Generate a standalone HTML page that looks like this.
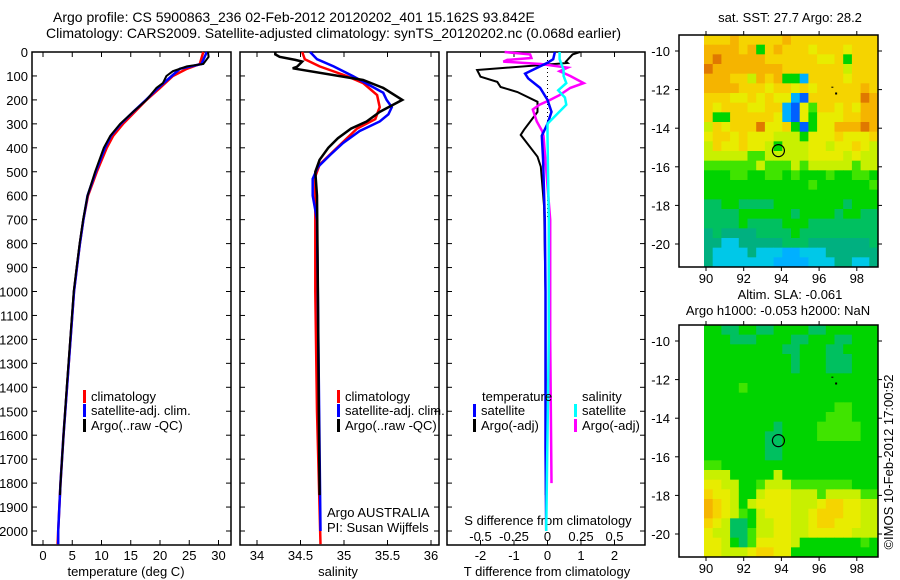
<!DOCTYPE html>
<html><head><meta charset="utf-8">
<style>
html,body{margin:0;padding:0;background:#fff;}
svg{display:block;font-family:"Liberation Sans",Arial,sans-serif;}
text{font-size:13px;fill:#000;}
</style></head>
<body>
<svg id="fig" width="900" height="580" viewBox="0 0 900 580" xmlns="http://www.w3.org/2000/svg">
<text x="53" y="22" style="font-size:14px">Argo profile: CS 5900863_236 02-Feb-2012 20120202_401 15.162S 93.842E</text>
<text x="46" y="38" style="font-size:14px">Climatology: CARS2009. Satellite-adjusted climatology: synTS_20120202.nc (0.068d earlier)</text>
<text x="790" y="22" text-anchor="middle">sat. SST: 27.7 Argo: 28.2</text>
<text x="790" y="299" text-anchor="middle">Altim. SLA: -0.061</text>
<text x="778" y="315" text-anchor="middle">Argo h1000: -0.053 h2000: NaN</text>
<text transform="translate(893,462) rotate(-90)" text-anchor="middle">©IMOS 10-Feb-2012 17:00:52</text>
<text x="126" y="576" text-anchor="middle">temperature (deg C)</text>
<text x="338" y="576" text-anchor="middle">salinity</text>
<text x="547" y="576" text-anchor="middle">T difference from climatology</text>
<text x="548" y="525" text-anchor="middle">S difference from climatology</text>
<text x="327" y="517">Argo AUSTRALIA</text>
<text x="327" y="532">PI: Susan Wijffels</text>
<g id="layer"></g>
</svg>
<script>
// ---- data ----
const depthTicks = [0,100,200,300,400,500,600,700,800,900,1000,1100,1200,1300,1400,1500,1600,1700,1800,1900,2000];
const tempTicks = [0,5,10,15,20,25,30];
const salTicks = [34,34.5,35,35.5,36];
const salTickLabels = ["34","34.5","35","35.5","36"];
const tdiffTicks = [-2,-1,0,1,2];
const sdiffTickLabels = ["-0.5","-0.25","0","0.25","0.5"];

const tClimDepth = [0,50,70,100,150,200,250,300,350,400,500,600,700,800,900,1000,1200,1400,1600,1800,2000,2055];
const tClim = [27.4,26.8,24.6,22.2,20,17.7,15.7,13.7,12,10.9,9.2,7.7,6.9,6.3,5.8,5.3,4.7,4.1,3.5,3.0,2.6,2.5];
const tSat = [28,27.1,23.4,22,19.7,17.6,15.4,13.3,11.6,10.6,9.0,7.6,6.9,6.3,5.8,5.3,4.7,4.1,3.5,3.0,2.6,2.6];
const tArgoDepth = [0,20,50,60,80,100,130,150,200,250,300,350,400,500,600,700,800,900,1000,1200,1400,1600,1800,1850];
const tArgo = [28.2,28.3,27.4,24.6,22.2,21.1,20.5,19.4,17.7,15.4,13.2,11.5,10.4,8.9,7.6,6.85,6.25,5.75,5.25,4.65,4.05,3.5,3.0,2.9];

const sClimDepth = [0,30,60,100,130,180,230,280,320,400,470,520,600,1000,1500,2055];
const sClim = [34.52,34.55,34.72,35.03,35.22,35.38,35.41,35.36,35.15,34.92,34.72,34.67,34.67,34.67,34.69,34.73];
const sSatDepth = [0,30,60,100,140,170,200,230,260,290,330,380,430,480,530,600,700,2000];
const sSat = [34.61,34.69,34.88,35.10,35.30,35.45,35.49,35.55,35.51,35.41,35.18,34.99,34.84,34.70,34.64,34.64,34.69,34.73];
const sArgoDepth = [0,10,20,33,40,62,68,117,150,200,250,290,320,360,400,450,500,600,1000,1500,1850];
const sArgo = [34.21,34.21,34.26,34.44,34.52,34.46,34.41,35.22,35.45,35.67,35.41,35.26,35.08,34.93,34.82,34.72,34.67,34.69,34.70,34.71,34.72];

const dTArgoDepth = [0,10,40,46,75,103,125,146,167,208,250,325,346,437,479,646,1000,1500,1850];
const dTArgo = [0.97,0.75,0.55,0.6,-2.1,-2.0,-1.5,-1.4,-0.9,-0.3,-0.3,-0.7,-0.8,-0.3,-0.2,-0.1,-0.06,-0.05,-0.05];
const dTSatDepth = [0,30,45,90,110,150,200,250,300,350,450,700,1000,1650,2000];
const dTSat = [0.22,0.17,0,-0.67,-0.58,-0.22,0,0.12,0,-0.17,-0.13,-0.08,-0.06,-0.06,-0.04];
const dSSatDepth = [0,30,75,100,130,160,190,220,260,300,350,700,1200,2000];
const dSSat = [0.09,0.09,0.12,0.12,0.14,0.08,0.13,0.14,0.07,0,0,0.01,0.01,-0.01];
const dSArgoDepth = [0,10,25,33,40,50,65,80,100,130,150,180,200,220,240,290,330,350,700,1200,1800];
const dSArgo = [-0.32,-0.13,-0.12,-0.30,-0.33,-0.05,0.15,0.09,0.17,0.27,0.17,0.09,0.02,-0.06,-0.11,-0.08,-0.04,-0.03,0.02,0.02,0.03];

const latTicks = [-10,-12,-14,-16,-18,-20];
const lonTicks = [90,92,94,96,98];
const sstGrid = [
"aaabaaaaabaaaaaaaaaa","bbbbab6abaaa9aaa9aaa","bcbbbbbaaaaaa99a6aaa","cbbbbbbbbaaaaaaa8aaa",
"bbbaa8bab662aaaa9aaa","bbbbaaa9aa9a9aaaaaba","aaa99a9a9921aaaaaacb","a9aaa99aa2197aa9a9bb",
"a66aaaaa92196999aabb","8a9aaac99a61699bbbcb","9aa9a9998886999a999a","8a99a998688899899a98",
"88888778888899998988","77777787778788888788","66677667767666766776","66666666666676666667",
"66666666666666666666","55665555666666665666","55556666665666656655","55556555566655555555",
"45444455556555555555","44334444455544444445","43333433322333444444","43333333222233344334"];
const slaGrid = [
"66556655666655666666","66655566665566655666","66666666655666556666","66666666665666555666",
"66666666665666555666","66666666666666666666","66667666666666666666","66666666666666666666",
"66666666666666677666","66666666666666777666","66666666566667777766","66666665566667777766",
"66666665566666666666","66666665566666666666","77666666666666666666","88866666866666666666",
"99886678887777777666","a9986689998887888877","ba986899998889aa9988","ba98768999889aaa9988",
"a985568899889aa99988","98855788998899999888","99865799998666666676","998889aa996666666666"];
const palette = {"0":"#0000a0","1":"#0060ff","2":"#00b0ff","3":"#00c8e8","4":"#00b080","5":"#00c060","6":"#00d400","7":"#40e400","8":"#c8f000","9":"#e8ec00","a":"#f5d400","b":"#f5b400","c":"#e07800"};
const argoLon = [93.842];
const argoLat = [-15.162];

// ---- helpers ----
const NS = "http://www.w3.org/2000/svg";
const layer = document.getElementById("layer");
function mk(tag, attrs, parent){
  const e = document.createElementNS(NS, tag);
  for (const k in attrs) e.setAttribute(k, attrs[k]);
  (parent||layer).appendChild(e);
  return e;
}
const Y0 = 52, YB = 545, DS = 0.2395;
function yDepth(d){ return Y0 + d*DS; }
function xTemp(t){ return 43 + t*5.85; }
function xSal(s){ return 257 + (s-34)*87; }
function xTd(v){ return 547.5 + v*33.5; }
function xSd(v){ return 547.5 + v*134; }

function panel(x0, x1, name){
  const r = mk("rect",{x:x0,y:Y0,width:x1-x0,height:YB-Y0,fill:"none",stroke:"#000","stroke-width":1.5});
  
  
  depthTicks.forEach(d=>{
    const y = yDepth(d);
    mk("line",{x1:x0,x2:x0+5,y1:y,y2:y,stroke:"#000"});
    mk("line",{x1:x1-5,x2:x1,y1:y,y2:y,stroke:"#000"});
  });
}
function xticks(vals, fx, labels, y, name){
  vals.forEach((v,i)=>{
    const x = fx(v);
    mk("line",{x1:x,x2:x,y1:YB-5,y2:YB,stroke:"#000"});
    mk("line",{x1:x,x2:x,y1:Y0,y2:Y0+5,stroke:"#000"});
    const t = mk("text",{x:x,y:y,"text-anchor":"middle"});
    t.textContent = labels[i];
    
    
  });
}
function series(depths, vals, fx, color, w, name){
  const pts = depths.map((d,i)=>fx(vals[i]).toFixed(1)+","+yDepth(d).toFixed(1)).join(" ");
  const p = mk("polyline",{points:pts,fill:"none",stroke:color,"stroke-width":w,"stroke-linejoin":"miter"});
  
  
}
function legend(x, y, color, label, name){
  mk("rect",{x:x,y:y-11,width:3,height:13,fill:color});
  const t = mk("text",{x:x+8,y:y});
  t.textContent = label;
  
  
}

// ---- depth axis labels ----
depthTicks.forEach(d=>{
  const t = mk("text",{x:28,y:yDepth(d)+5,"text-anchor":"end"});
  t.textContent = String(d);
  
  
});

// ---- panels ----
panel(32,231,"temperature-panel");
panel(240,439,"salinity-panel");
panel(447,645,"difference-panel");
xticks(tempTicks, xTemp, tempTicks.map(String), 560, "temperature-tick-label");
xticks(salTicks, xSal, salTickLabels, 560, "salinity-tick-label");
xticks(tdiffTicks, xTd, tdiffTicks.map(String), 560, "t-difference-tick-label");
tdiffTicks.forEach((v,i)=>{
  const t = mk("text",{x:xTd(v),y:541,"text-anchor":"middle"});
  t.textContent = sdiffTickLabels[i];
  
  
});

// temperature
series(tClimDepth, tClim, xTemp, "#ff0000", 2.5, "temperature-climatology-line");
series(tClimDepth, tSat, xTemp, "#0000ff", 2.5, "temperature-satellite-line");
series(tArgoDepth, tArgo, xTemp, "#000000", 2, "temperature-argo-line");
legend(83,401,"#ff0000","climatology","temp-legend-climatology");
legend(83,415,"#0000ff","satellite-adj. clim.","temp-legend-satellite");
legend(83,430,"#000000","Argo(..raw -QC)","temp-legend-argo");

// salinity
series(sClimDepth, sClim, xSal, "#ff0000", 2.5, "salinity-climatology-line");
series(sSatDepth, sSat, xSal, "#0000ff", 2.5, "salinity-satellite-line");
series(sArgoDepth, sArgo, xSal, "#000000", 2.5, "salinity-argo-line");
legend(337,401,"#ff0000","climatology","sal-legend-climatology");
legend(337,415,"#0000ff","satellite-adj. clim.","sal-legend-satellite");
legend(337,430,"#000000","Argo(..raw -QC)","sal-legend-argo");

// differences
const zl = mk("line",{x1:xTd(0),x2:xTd(0),y1:yDepth(0),y2:yDepth(700),stroke:"#000","stroke-dasharray":"1,3"});


series(dTArgoDepth, dTArgo, xTd, "#000000", 2, "t-diff-argo-line");
series(dSArgoDepth, dSArgo, xSd, "#ff00ff", 2.5, "s-diff-argo-line");
series(dTSatDepth, dTSat, xTd, "#0000ff", 2.5, "t-diff-satellite-line");
series(dSSatDepth, dSSat, xSd, "#00ffff", 2.5, "s-diff-satellite-line");
const lt = mk("text",{x:482,y:401}); lt.textContent="temperature";


const ls = mk("text",{x:582,y:401}); ls.textContent="salinity";


legend(473,415,"#0000ff","satellite","diff-legend-t-satellite");
legend(473,430,"#000000","Argo(-adj)","diff-legend-t-argo");
legend(574,415,"#00ffff","satellite","diff-legend-s-satellite");
legend(574,430,"#ff00ff","Argo(-adj)","diff-legend-s-argo");

// ---- maps ----
function map(top, grid, name){
  const L=679, R=878, B=top+232;
  const lonX = lon => 706 + (lon-90)*18.85;
  const latY = lat => top + 16 + (-10-lat)*19.3;
  mk("rect",{x:L,y:top,width:R-L,height:B-top,fill:"#fff"});
  const cx0 = 704, cw = (R-cx0)/20, ch = (B-top)/24;
  grid.forEach((row,r)=>{
    for(let c=0;c<row.length;c++){
      const cell = mk("rect",{x:(cx0+c*cw).toFixed(2),y:(top+r*ch).toFixed(2),width:(cw+0.4).toFixed(2),height:(ch+0.4).toFixed(2),fill:palette[row[c]]});
      
      
    }
  });
  const fr = mk("rect",{x:L,y:top,width:R-L,height:B-top,fill:"none",stroke:"#000","stroke-width":1.5});
  
  
  latTicks.forEach(la=>{
    const y = latY(la);
    mk("line",{x1:L,x2:L-4,y1:y,y2:y,stroke:"#000"});
    mk("line",{x1:R,x2:R+4,y1:y,y2:y,stroke:"#000"});
    const t = mk("text",{x:670,y:y+5,"text-anchor":"end"});
    t.textContent = String(la);
    
    
  });
  lonTicks.forEach(lo=>{
    const x = lonX(lo);
    mk("line",{x1:x,x2:x,y1:top,y2:top-4,stroke:"#000"});
    mk("line",{x1:x,x2:x,y1:B,y2:B+4,stroke:"#000"});
    const t = mk("text",{x:x,y:B+16,"text-anchor":"middle"});
    t.textContent = String(lo);
    
    
  });
  argoLon.forEach((lo,i)=>{
    const c = mk("circle",{cx:lonX(lo),cy:latY(argoLat[i]),r:6,fill:"none",stroke:"#000","stroke-width":1.2});
    
    
  });
  mk("rect",{x:lonX(96.65),y:latY(-11.85),width:2,height:1,fill:"#000"});
  mk("rect",{x:lonX(96.85),y:latY(-12.15),width:2,height:2,fill:"#000"});
}
map(35, sstGrid, "sst-map");
map(325, slaGrid, "sla-map");
</script>
</body></html>
